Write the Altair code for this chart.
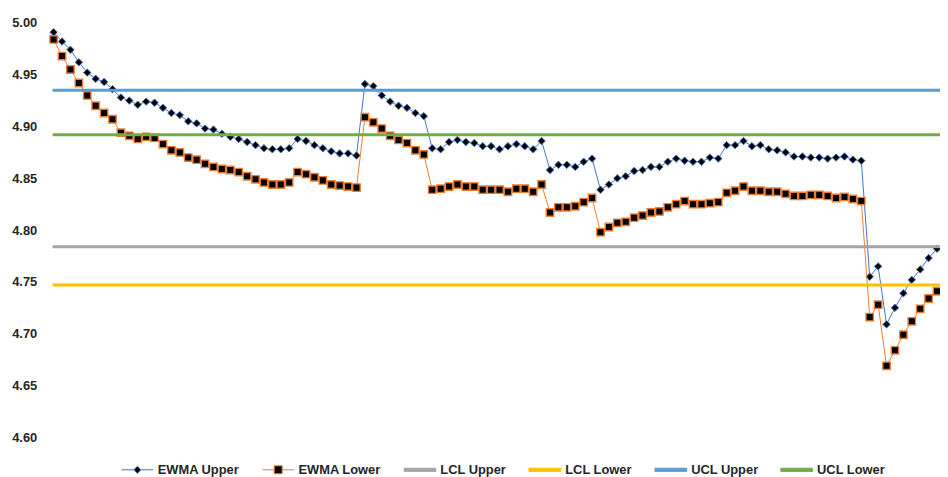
import altair as alt
import pandas as pd

# ---- data ----
ewma_upper = [
    4.991, 4.982, 4.974, 4.962, 4.952, 4.946, 4.943, 4.936, 4.928, 4.925,
    4.921, 4.924, 4.923, 4.918, 4.913, 4.911, 4.905, 4.903, 4.898, 4.897,
    4.893, 4.890, 4.888, 4.885, 4.882, 4.879, 4.878, 4.878, 4.879, 4.888,
    4.886, 4.882, 4.879, 4.876, 4.874, 4.874, 4.872, 4.941, 4.939, 4.930,
    4.924, 4.920, 4.918, 4.913, 4.910, 4.879, 4.878, 4.885, 4.887, 4.885,
    4.884, 4.881, 4.881, 4.878, 4.881, 4.883, 4.881, 4.878, 4.886, 4.858,
    4.863, 4.863, 4.861, 4.866, 4.869, 4.839, 4.844, 4.850, 4.852, 4.857,
    4.858, 4.861, 4.861, 4.866, 4.869, 4.867, 4.866, 4.866, 4.870, 4.869,
    4.882, 4.882, 4.886, 4.881, 4.882, 4.878, 4.877, 4.875, 4.871, 4.871,
    4.870, 4.870, 4.869, 4.870, 4.871, 4.868, 4.867, 4.755, 4.765, 4.709,
    4.725, 4.739, 4.752, 4.762, 4.773, 4.782,
]
ewma_lower = [
    4.984, 4.968, 4.955, 4.942, 4.930, 4.920, 4.913, 4.907, 4.894, 4.891,
    4.888, 4.890, 4.889, 4.883, 4.877, 4.875, 4.870, 4.868, 4.864, 4.861,
    4.859, 4.858, 4.856, 4.852, 4.849, 4.846, 4.844, 4.844, 4.846, 4.856,
    4.854, 4.851, 4.848, 4.844, 4.843, 4.842, 4.841, 4.909, 4.904, 4.898,
    4.891, 4.887, 4.884, 4.877, 4.873, 4.839, 4.840, 4.842, 4.844, 4.842,
    4.842, 4.839, 4.839, 4.839, 4.837, 4.840, 4.840, 4.837, 4.844, 4.817,
    4.822, 4.822, 4.823, 4.827, 4.831, 4.798, 4.803, 4.807, 4.808, 4.812,
    4.814, 4.817, 4.818, 4.822, 4.825, 4.828, 4.825, 4.825, 4.826, 4.827,
    4.836, 4.838, 4.842, 4.838, 4.838, 4.837, 4.837, 4.835, 4.833, 4.833,
    4.834, 4.834, 4.833, 4.831, 4.832, 4.830, 4.828, 4.716, 4.728, 4.669,
    4.684, 4.699, 4.712, 4.724, 4.734, 4.741,
]
control_names = ["LCL Upper", "LCL Lower", "UCL Upper", "UCL Lower"]
control_values = [4.784, 4.747, 4.935, 4.892]
y_ticks = [4.60, 4.65, 4.70, 4.75, 4.80, 4.85, 4.90, 4.95, 5.00]

series_order = ["EWMA Upper", "EWMA Lower"] + control_names

# ---- styles ----
line_colors = {
    "EWMA Upper": "#4472C4",
    "EWMA Lower": "#ED7D31",
    "LCL Upper": "#A5A5A5",
    "LCL Lower": "#FFC000",
    "UCL Upper": "#5B9BD5",
    "UCL Lower": "#70AD47",
}
fill_colors = {
    "EWMA Upper": "#000000",
    "EWMA Lower": "#000000",
    "LCL Upper": "#A5A5A5",
    "LCL Lower": "#FFC000",
    "UCL Upper": "#5B9BD5",
    "UCL Lower": "#70AD47",
}
rect_path = "M-1,-0.4H7V0.4H-1Z"
legend_shapes = {
    "EWMA Upper": "M-1,0H2.1M3.9,0H7M3,-0.9L3.9,0L3,0.9L2.1,0Z",
    "EWMA Lower": "M-1,0H2M4,0H7M2,-1H4V1H2Z",
    "LCL Upper": rect_path,
    "LCL Lower": rect_path,
    "UCL Upper": rect_path,
    "UCL Lower": rect_path,
}

FONT = "Liberation Sans"
TEXT = "#262626"

n = len(ewma_upper)
idx = list(range(1, n + 1))
ewma_df = pd.DataFrame({
    "i": idx + idx,
    "value": ewma_upper + ewma_lower,
    "series": ["EWMA Upper"] * n + ["EWMA Lower"] * len(ewma_lower),
})
ctrl_df = pd.DataFrame({"series": control_names, "value": control_values})
legend_df = pd.DataFrame({"series": series_order})

W, H = 891, 418

x_enc = alt.X("i:Q", scale=alt.Scale(domain=[1, n], nice=False, zero=False), axis=None)
y_axis = alt.Axis(values=y_ticks, format=".2f", grid=False, domain=False, ticks=False,
                  labelPadding=17, title=None, labelFont=FONT, labelFontSize=13,
                  labelFontWeight="bold", labelColor=TEXT)
y_enc = alt.Y("value:Q", scale=alt.Scale(domain=[4.6, 5.0], nice=False, zero=False), axis=y_axis)

layers = []

# EWMA lines and markers
for name, shape, size, sw in [("EWMA Upper", "diamond", 56, 1.0), ("EWMA Lower", "square", 56, 1.4)]:
    base = alt.Chart(ewma_df).transform_filter(alt.datum.series == name)
    layers.append(base.mark_line(color=line_colors[name], strokeWidth=1).encode(x=x_enc, y=y_enc))
    layers.append(base.mark_point(shape=shape, filled=False, fill="#000000", size=size,
                                  stroke=line_colors[name], strokeWidth=sw, opacity=1)
                  .encode(x=x_enc, y=y_enc))

# control limit lines
for name in control_names:
    layers.append(
        alt.Chart(ctrl_df).transform_filter(alt.datum.series == name)
        .mark_rule(color=line_colors[name], strokeWidth=3)
        .encode(y=y_enc, x=alt.value(-1), x2=alt.value(W + 3))
    )

# legend carrier (invisible marks, legend from scales)
dom = series_order
leg = alt.Legend(title=None)
layers.append(
    alt.Chart(legend_df).mark_point(opacity=0).encode(
        stroke=alt.Stroke("series:N", scale=alt.Scale(domain=dom, range=[line_colors[s] for s in dom]), legend=leg),
        fill=alt.Fill("series:N", scale=alt.Scale(domain=dom, range=[fill_colors[s] for s in dom]), legend=leg),
        shape=alt.Shape("series:N", scale=alt.Scale(domain=dom, range=[legend_shapes[s] for s in dom]), legend=leg),
    )
)

chart = alt.layer(*layers).properties(
    width=W, height=H,
    autosize=alt.AutoSizeParams(type="none"),
    padding={"left": 46, "top": 13, "right": 3, "bottom": 38},
).configure_view(stroke=None).configure_legend(
    orient="none", legendX=66, legendY=444, direction="horizontal", symbolSize=64,
    symbolStrokeWidth=1, symbolOpacity=1, symbolFillColor="#000000", labelFont=FONT,
    labelFontSize=13, labelFontWeight="bold", labelColor=TEXT, labelOffset=26,
    columnPadding=20,
)

chart.save("out.html", embed_options={"renderer": "svg", "actions": False})
